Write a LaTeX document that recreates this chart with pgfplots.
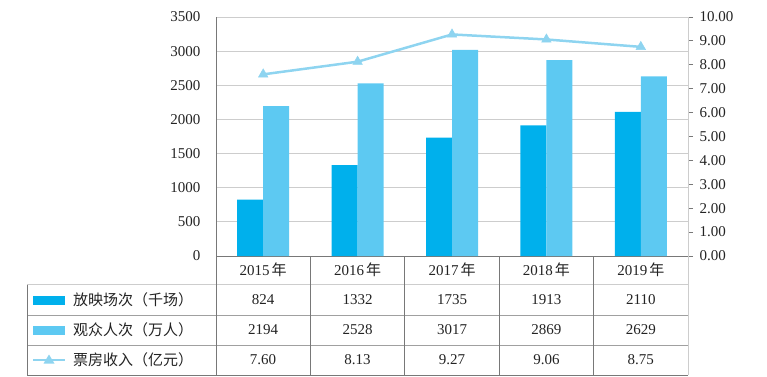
\documentclass[border=0pt]{standalone}
\usepackage{fontspec}
\setmainfont{Liberation Serif}
\newfontfamily\cjk{Noto Sans CJK SC}
\usepackage{pgfplots}
\pgfplotsset{compat=1.18}
\definecolor{barA}{RGB}{0,176,236}
\definecolor{barB}{RGB}{93,201,242}
\definecolor{lineC}{RGB}{142,212,240}
\definecolor{axdark}{RGB}{120,120,120}
\definecolor{midg}{RGB}{160,160,160}
\definecolor{gridc}{RGB}{205,205,205}
\definecolor{txt}{RGB}{35,35,35}
\newcommand{\fs}{\fontsize{15bp}{18bp}\selectfont}

\begin{document}
\begin{tikzpicture}[x=1bp,y=1bp]
\path[use as bounding box] (0,0) rectangle (767,376);
\begin{axis}[
  at={(216bp,120bp)}, anchor=south west, scale only axis,
  width=472bp, height=239bp,
  xmin=-0.5, xmax=4.5, ymin=0, ymax=3500,
  ytick={0,500,1000,1500,2000,2500,3000,3500}, xtick=\empty,
  ybar=0pt, bar width=26bp,
  axis x line*=bottom, axis y line*=left,
  axis line style={draw=axdark, line width=0.8bp},
  ymajorgrids, grid style={draw=gridc, line width=0.8bp},
  major tick length=0pt,
  yticklabel style={font=\fs, xshift=-12bp, text=txt},
  /pgf/number format/assume math mode=true,
  /pgf/number format/1000 sep={},
  clip=false,
]
\addplot[fill=barA, draw=none] coordinates {(0,824) (1,1332) (2,1735) (3,1913) (4,2110)};
\addplot[fill=barB, draw=none] coordinates {(0,2194) (1,2528) (2,3017) (3,2869) (4,2629)};
\end{axis}
\begin{axis}[
  at={(216bp,120bp)}, anchor=south west, scale only axis,
  width=472bp, height=239bp,
  xmin=-0.5, xmax=4.5, ymin=0, ymax=10,
  ytick={0,1,2,3,4,5,6,7,8,9,10}, xtick=\empty,
  axis x line=none, axis y line*=right,
  axis line style={draw=gridc, line width=0.8bp},
  tick style={draw=axdark, line width=0.8bp},
  tick align=outside, major tick length=5bp,
  yticklabel style={font=\fs, xshift=3bp, text=txt},
  /pgf/number format/fixed,
  /pgf/number format/fixed zerofill,
  /pgf/number format/precision=2,
  /pgf/number format/assume math mode=true,
  clip=false,
]
\addplot[color=lineC, line width=2.5bp, mark=triangle*, mark size=5.5bp, mark options={solid, fill=lineC, draw=lineC, line width=0.5bp}] coordinates {(0,7.60) (1,8.13) (2,9.27) (3,9.06) (4,8.75)};
\end{axis}
% table grid
\draw[draw=gridc, line width=0.8] (27,91.5) -- (688,91.5);
\draw[draw=midg, line width=0.8] (27,61) -- (688,61);
\draw[draw=midg, line width=0.8] (27,31) -- (688,31);
\draw[draw=axdark, line width=0.8] (27,1) -- (688,1);
\draw[draw=axdark, line width=0.8] (27,91.5) -- (27,1);
\draw[draw=axdark, line width=0.8] (216,120) -- (216,1);
\foreach \xx in {310.4,404.8,499.2,593.6} {\draw[draw=axdark, line width=0.8] (\xx,120) -- (\xx,1);}
\draw[draw=gridc, line width=0.8] (688,120) -- (688,1);
% table text
\foreach \xx/\yr/\a/\b/\c in {263/2015/824/2194/7.60, 357.6/2016/1332/2528/8.13, 452/2017/1735/3017/9.27, 546.4/2018/1913/2869/9.06, 640.8/2019/2110/2629/8.75} {
  \node[font=\fs, text=txt] at (\xx,106) {\yr\hspace{2bp}{\cjk 年}};
  \node[font=\fs, text=txt] at (\xx,76) {\a};
  \node[font=\fs, text=txt] at (\xx,46) {\b};
  \node[font=\fs, text=txt] at (\xx,16) {\c};
}
% legend column
\fill[barA] (33,71.5) rectangle (65,80.5);
\fill[barB] (33,41.5) rectangle (65,50.5);
\draw[lineC, line width=2.5] (33,16) -- (65,16);
\fill[lineC] (43.5,12.5) -- (54.5,12.5) -- (49,21.5) -- cycle;
\node[font=\fs, text=txt, anchor=west, inner sep=0] at (73,76) {\cjk 放映场次（千场）};
\node[font=\fs, text=txt, anchor=west, inner sep=0] at (73,46) {\cjk 观众人次（万人）};
\node[font=\fs, text=txt, anchor=west, inner sep=0] at (73,16) {\cjk 票房收入（亿元）};
\end{tikzpicture}
\end{document}
